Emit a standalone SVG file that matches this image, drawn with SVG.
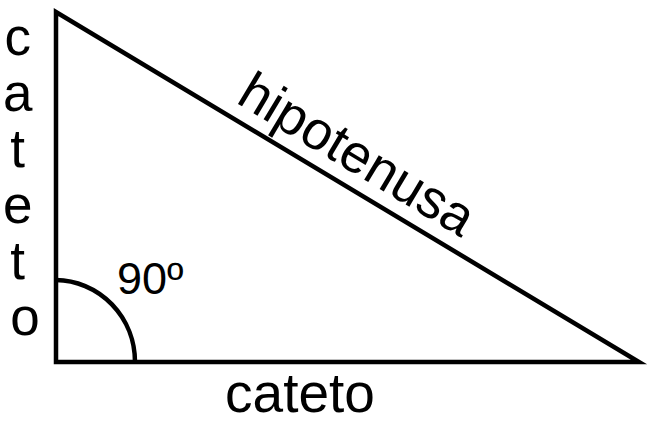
<svg xmlns="http://www.w3.org/2000/svg" width="653" height="423" viewBox="0 0 653 423">
<style>
.t{font-family:"Liberation Sans",Arial,sans-serif;fill:#000}
.s{fill:none;stroke:#000;stroke-width:4.5}
</style>
<rect width="653" height="423" fill="#fff"/>
<g id="triangle">
<path class="s" d="M56,12 L56,362 L639,362 Z" stroke-linejoin="miter"/>
</g>
<g id="angle">
<path class="s" d="M56,280 A80,82 0 0 1 135,362" stroke-width="3.5"/>
<text class="t" x="117" y="294" font-size="45">90º</text>
</g>
<g id="cateto-vertical">
<text class="t" font-size="53" text-anchor="middle">
<tspan x="25" y="55">c</tspan>
<tspan x="25" y="111">a</tspan>
<tspan x="25" y="167">t</tspan>
<tspan x="25" y="223">e</tspan>
<tspan x="25" y="279">t</tspan>
<tspan x="25" y="335">o</tspan>
</text>
</g>
<g id="cateto-horizontal">
<text class="t" x="300" y="412" font-size="55" text-anchor="middle">cateto</text>
</g>
<g id="hipotenusa">
<text class="t" font-size="54" text-anchor="middle" transform="translate(348,170) rotate(30.93)">hipotenusa</text>
</g>
</svg>
